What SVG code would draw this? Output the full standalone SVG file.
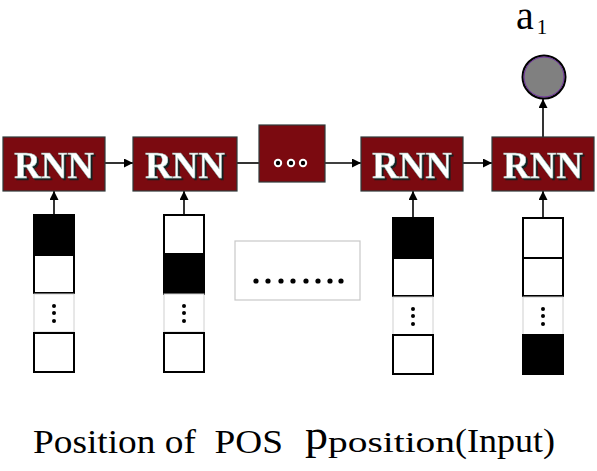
<svg xmlns="http://www.w3.org/2000/svg" width="597" height="471" viewBox="0 0 597 471">
<defs>
<marker id="ah" viewBox="0 0 10 10" refX="10" refY="5" markerWidth="9" markerHeight="9" markerUnits="userSpaceOnUse" orient="auto">
<path d="M0,0 L10,5 L0,10 z" fill="#000"/>
</marker>
<filter id="shadow" x="-10%" y="-10%" width="130%" height="130%">
<feDropShadow dx="1.8" dy="1.8" stdDeviation="0.3" flood-color="#0f2424" flood-opacity="1"/>
</filter>
<style>
.rnn{fill:#7b0a10;stroke:#2f3a3a;stroke-width:1.2}
.rt{font-family:'Liberation Serif','Times New Roman',Times,serif;font-weight:bold;font-size:37px;text-anchor:middle;fill:#fff;stroke:#8fb8b0;stroke-width:0.4;filter:url(#shadow)}
.cell{fill:#fff;stroke:#000;stroke-width:2}
.blk{fill:#000;stroke:#000;stroke-width:2}
.gap{fill:#fff;stroke:#d0d0d0;stroke-width:1}
.dot{fill:#000}
.ln{stroke:#000;stroke-width:1.6;fill:none}
.tx{font-family:'Liberation Serif','Times New Roman',Times,serif;fill:#000}
</style>
</defs>
<rect width="597" height="471" fill="#fff"/>

<g id="connectors">
<line class="ln" x1="105" y1="163" x2="133" y2="163" marker-end="url(#ah)"/>
<line class="ln" x1="237" y1="163" x2="259" y2="163"/>
<line class="ln" x1="325" y1="163" x2="361" y2="163" marker-end="url(#ah)"/>
<line class="ln" x1="463" y1="163" x2="492" y2="163" marker-end="url(#ah)"/>
<line class="ln" x1="543" y1="137" x2="543" y2="99" marker-end="url(#ah)"/>
<line class="ln" x1="54" y1="215" x2="54" y2="191" marker-end="url(#ah)"/>
<line class="ln" x1="184" y1="215" x2="184" y2="191" marker-end="url(#ah)"/>
<line class="ln" x1="413" y1="218" x2="413" y2="191" marker-end="url(#ah)"/>
<line class="ln" x1="543" y1="218" x2="543" y2="191" marker-end="url(#ah)"/>
</g>

<g id="rnn1">
<rect class="rnn" x="3" y="137" width="102" height="54"/>
<text class="rt" x="54" y="178">RNN</text>
</g>
<g id="rnn2">
<rect class="rnn" x="133" y="137" width="104" height="54"/>
<text class="rt" x="185" y="178">RNN</text>
</g>
<g id="ellipsis-node">
<rect class="rnn" x="259" y="125" width="66" height="57"/>
<circle cx="278" cy="163" r="4.2" fill="#fff"/><circle cx="278" cy="163" r="2.2" fill="#000"/>
<circle cx="291" cy="163" r="4.2" fill="#fff"/><circle cx="291" cy="163" r="2.2" fill="#000"/>
<circle cx="303" cy="163" r="4.2" fill="#fff"/><circle cx="303" cy="163" r="2.2" fill="#000"/>
</g>
<g id="rnn3">
<rect class="rnn" x="361" y="137" width="102" height="54"/>
<text class="rt" x="412" y="178">RNN</text>
</g>
<g id="rnn4">
<rect class="rnn" x="492" y="137" width="102" height="54"/>
<text class="rt" x="543" y="178">RNN</text>
</g>

<g id="output">
<circle cx="544" cy="77" r="21.5" fill="#808080" stroke="#000" stroke-width="2"/>
<circle cx="544" cy="77" r="20" fill="none" stroke="#7030a0" stroke-width="1"/>
<text class="tx" x="516" y="29" font-size="40">a<tspan font-size="21" dx="3" dy="5">1</tspan></text>
</g>

<g id="vec1">
<rect class="blk" x="34" y="215" width="40" height="40"/>
<rect class="cell" x="34" y="255" width="40" height="38"/>
<rect class="gap" x="34" y="294" width="40" height="38"/>
<circle class="dot" cx="54" cy="306" r="2"/><circle class="dot" cx="54" cy="313" r="2"/><circle class="dot" cx="54" cy="321" r="2"/>
<rect class="cell" x="34" y="333" width="40" height="39"/>
</g>
<g id="vec2">
<rect class="cell" x="164" y="215" width="40" height="39"/>
<rect class="blk" x="164" y="254" width="40" height="40"/>
<rect class="gap" x="164" y="294" width="40" height="38"/>
<circle class="dot" cx="184" cy="306" r="2"/><circle class="dot" cx="184" cy="313" r="2"/><circle class="dot" cx="184" cy="321" r="2"/>
<rect class="cell" x="164" y="333" width="40" height="39"/>
</g>
<g id="middle-ellipsis">
<rect x="235" y="241" width="125" height="59" fill="#fff" stroke="#c8c8c8" stroke-width="1.2"/>
<circle class="dot" cx="256" cy="281" r="2.6"/><circle class="dot" cx="268" cy="281" r="2.6"/>
<circle class="dot" cx="281" cy="281" r="2.6"/><circle class="dot" cx="293" cy="281" r="2.6"/>
<circle class="dot" cx="306" cy="281" r="2.6"/><circle class="dot" cx="318" cy="281" r="2.6"/>
<circle class="dot" cx="330" cy="281" r="2.6"/><circle class="dot" cx="341" cy="281" r="2.6"/>
</g>
<g id="vec3">
<rect class="blk" x="393" y="218" width="40" height="40"/>
<rect class="cell" x="393" y="258" width="40" height="38"/>
<rect class="gap" x="393" y="297" width="40" height="38"/>
<circle class="dot" cx="413" cy="309" r="2"/><circle class="dot" cx="413" cy="316" r="2"/><circle class="dot" cx="413" cy="324" r="2"/>
<rect class="cell" x="393" y="335" width="40" height="39"/>
</g>
<g id="vec4">
<rect class="cell" x="523" y="218" width="40" height="40"/>
<rect class="cell" x="523" y="258" width="40" height="38"/>
<rect class="gap" x="523" y="297" width="40" height="38"/>
<circle class="dot" cx="543" cy="309" r="2"/><circle class="dot" cx="543" cy="316" r="2"/><circle class="dot" cx="543" cy="324" r="2"/>
<rect class="blk" x="523" y="335" width="40" height="39"/>
</g>

<g id="caption">
<text class="tx" x="33" y="453" font-size="34" textLength="250" lengthAdjust="spacingAndGlyphs" xml:space="preserve">Position of  POS</text>
<text class="tx" x="305" y="449" font-size="43" textLength="23" lengthAdjust="spacingAndGlyphs">p</text>
<text class="tx" x="328" y="452" font-size="30" textLength="127" lengthAdjust="spacingAndGlyphs">position</text>
<text class="tx" x="455" y="452" font-size="33" textLength="100" lengthAdjust="spacingAndGlyphs">(Input)</text>
</g>
</svg>
